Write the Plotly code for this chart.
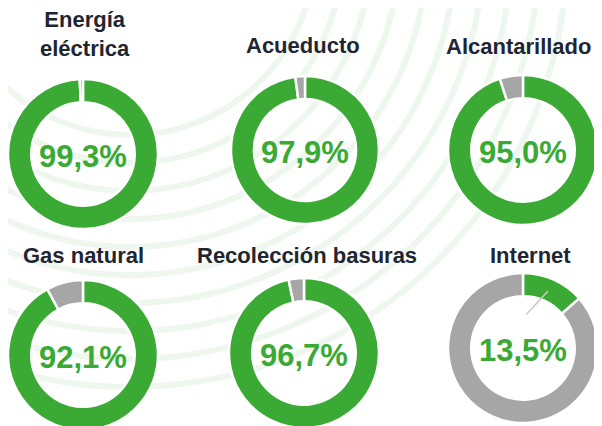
import plotly.graph_objects as go

# ---- data ----
services = ["Energía<br>eléctrica", "Acueducto", "Alcantarillado",
            "Gas natural", "Recolección basuras", "Internet"]
coverage = [99.3, 97.9, 95.0, 92.1, 96.7, 13.5]
labels_pct = ["99,3%", "97,9%", "95,0%", "92,1%", "96,7%", "13,5%"]

# ---- layout (pixels, page coordinates; page has an 8px body margin) ----
W, H = 602, 426
OFF = 8
centers = [(83, 154, 75), (305, 150, 74), (523, 150, 75),
           (83, 355, 75), (304, 353, 75), (523, 348, 75)]
title_pos = [(85, 34), (303, 46), (518, 47), (83, 256), (307, 255), (530, 255)]

GREEN = "#3aaa35"
GRAY = "#a6a6a6"
NAVY = "#1f2532"
FONT = "Liberation Sans, Arial, sans-serif"


def px(x):
    return (x - OFF) / W


def py(y):
    return 1 - (y - OFF) / H


fig = go.Figure()

# hidden pixel axes for decorative background arcs
fig.add_trace(go.Scatter(x=[0, W], y=[0, H], mode="markers",
                         marker=dict(opacity=0), hoverinfo="skip", showlegend=False))

for i, (svc, val) in enumerate(zip(services, coverage)):
    cx, cy, r = centers[i]
    fig.add_trace(go.Pie(
        values=[val, 100 - val],
        labels=["Con servicio", "Sin servicio"],
        marker=dict(colors=[GREEN, GRAY], line=dict(color="white", width=2.5)),
        hole=0.69, sort=False, direction="clockwise", rotation=0,
        textinfo="none", hoverinfo="skip", showlegend=False,
        domain=dict(x=[max(0, px(cx - r)), min(1, px(cx + r))],
                    y=[max(0, py(cy + r)), min(1, py(cy - r))]),
    ))
    fig.add_annotation(x=px(cx), y=py(cy + 2), xref="paper", yref="paper",
                       text=f"<b>{labels_pct[i]}</b>", showarrow=False,
                       font=dict(family=FONT, size=31, color=GREEN),
                       xanchor="center", yanchor="middle")
    tx, ty = title_pos[i]
    fig.add_annotation(x=px(tx), y=py(ty), xref="paper", yref="paper",
                       text=f"<b>{svc}</b>", showarrow=False,
                       font=dict(family=FONT, size=22, color=NAVY),
                       xanchor="center", yanchor="middle")

# small leader line on Internet donut
fig.add_annotation(x=548 - OFF, y=291 - OFF, xref="x", yref="y", ax=-23, ay=25,
                   text="", showarrow=True, arrowhead=0, arrowwidth=1.5,
                   arrowcolor="#c9c9c9")

# faint decorative arcs
shapes = []
acx, acy = 130 - OFF, -50 - OFF
for rr in range(185, 440, 28):
    shapes.append(dict(type="circle", xref="x", yref="y",
                       x0=acx - rr, x1=acx + rr, y0=acy - rr, y1=acy + rr,
                       line=dict(color="#edf7ee", width=6), layer="below"))

fig.update_layout(
    width=W, height=H, margin=dict(l=0, r=0, t=0, b=0),
    paper_bgcolor="white", plot_bgcolor="white",
    xaxis=dict(range=[0, W], visible=False, fixedrange=True, domain=[0, 1]),
    yaxis=dict(range=[H, 0], visible=False, fixedrange=True, domain=[0, 1]),
    shapes=shapes,
)

fig.write_html("out.html")
